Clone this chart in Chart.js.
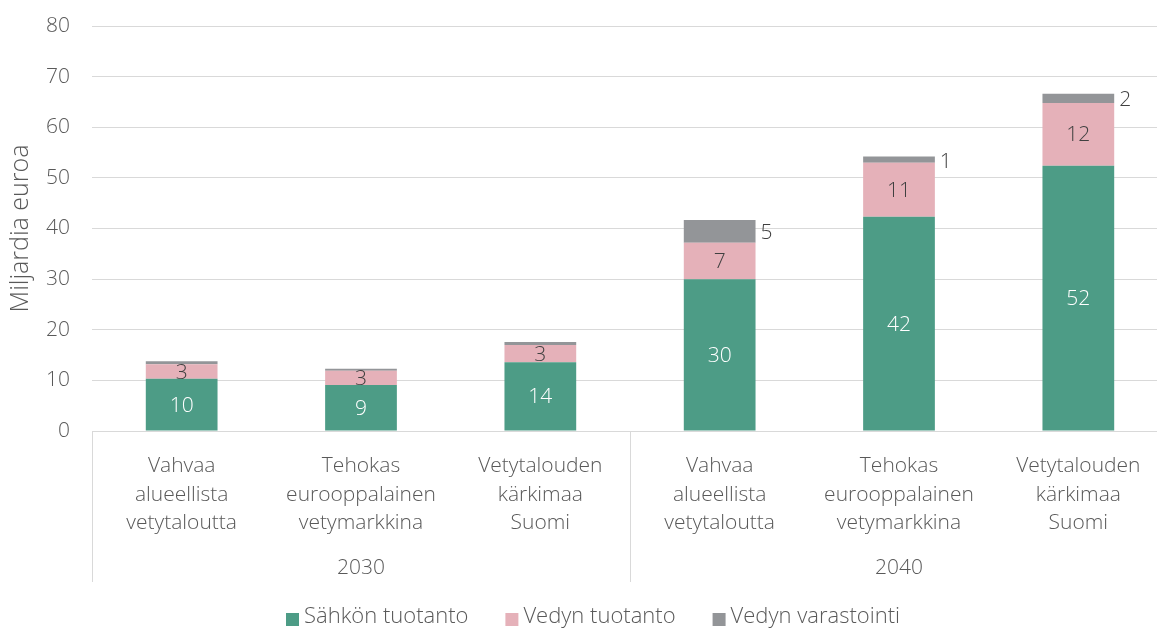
<!DOCTYPE html>
<html>
<head>
<meta charset="utf-8">
<script src="https://cdn.jsdelivr.net/npm/chart.js@4"></script>
<style>
  html, body { margin: 0; padding: 0; background: #fff; overflow: hidden; }
  #wrap { width: 1170px; height: 628px; position: relative; }
</style>
</head>
<body>
<div id="wrap"><canvas id="c"></canvas></div>
<script>
const categories = [
  ['Vahvaa', 'alueellista', 'vetytaloutta'],
  ['Tehokas', 'eurooppalainen', 'vetymarkkina'],
  ['Vetytalouden', 'kärkimaa', 'Suomi'],
  ['Vahvaa', 'alueellista', 'vetytaloutta'],
  ['Tehokas', 'eurooppalainen', 'vetymarkkina'],
  ['Vetytalouden', 'kärkimaa', 'Suomi']
];
const years = ['2030', '2040'];
const yearGroupSize = [3, 3];
const seriesNames = ['Sähkön tuotanto', 'Vedyn tuotanto', 'Vedyn varastointi'];
const sahkonTuotanto = [10.3, 9.1, 13.6, 30.0, 42.3, 52.4];
const vedynTuotanto = [2.9, 2.8, 3.4, 7.2, 10.7, 12.4];
const vedynVarastointi = [0.6, 0.4, 0.6, 4.5, 1.2, 1.8];
const showVarastointiLabel = [false, false, false, true, true, true];
const yMin = 0, yMax = 80, yStep = 10;

const FONT = '"Open Sans"';
const FS = 21;
const TXT = '#595959';
const GRID = '#d9d9d9';
const colors = ['#4d9c86', '#e5b1b9', '#939598'];

const labelPlugin = {
  id: 'labelsAndDecor',
  afterDatasetsDraw(chart) {
    const ctx = chart.ctx;
    ctx.save();
    ctx.font = '300 ' + FS + 'px ' + FONT;
    ctx.textBaseline = 'middle';
    chart.data.datasets.forEach((ds, di) => {
      const meta = chart.getDatasetMeta(di);
      meta.data.forEach((el, i) => {
        const v = ds.data[i];
        const txt = String(Math.round(v));
        const cy = (el.y + el.base) / 2;
        if (di === 0) {
          ctx.fillStyle = '#ffffff';
          ctx.textAlign = 'center';
          ctx.fillText(txt, el.x, cy + 1);
        } else if (di === 1) {
          ctx.fillStyle = '#404040';
          ctx.textAlign = 'center';
          ctx.fillText(txt, el.x, cy + 1);
        } else if (showVarastointiLabel[i]) {
          ctx.fillStyle = '#404040';
          ctx.textAlign = 'left';
          ctx.fillText(txt, el.x + el.width / 2 + 5, cy + 2);
        }
      });
    });
    ctx.restore();
  },
  afterDraw(chart) {
    const ctx = chart.ctx;
    const xs = chart.scales.x;
    const area = chart.chartArea;
    const catW = xs.getPixelForValue(1) - xs.getPixelForValue(0);
    ctx.save();
    ctx.strokeStyle = GRID;
    ctx.lineWidth = 1;
    let start = 0;
    const bottomY = 582;
    ctx.font = '300 ' + FS + 'px ' + FONT;
    ctx.fillStyle = TXT;
    ctx.textAlign = 'center';
    ctx.textBaseline = 'middle';
    years.forEach((yr, g) => {
      const n = yearGroupSize[g];
      const left = xs.getPixelForValue(start) - catW / 2;
      const right = xs.getPixelForValue(start + n - 1) + catW / 2;
      ctx.beginPath();
      ctx.moveTo(Math.round(left) + 0.5, area.bottom);
      ctx.lineTo(Math.round(left) + 0.5, bottomY);
      ctx.moveTo(Math.round(right) + 0.5, area.bottom);
      ctx.lineTo(Math.round(right) + 0.5, bottomY);
      ctx.stroke();
      ctx.fillText(yr, (left + right) / 2, 568);
      start += n;
    });
    // legend
    ctx.font = '300 22px ' + FONT;
    ctx.textAlign = 'left';
    const sq = 13, textOffset = 18, gapItem = 37;
    const widths = seriesNames.map(s => ctx.measureText(s).width);
    let x = 286;
    const ly = 617;
    seriesNames.forEach((s, i) => {
      ctx.fillStyle = colors[i];
      ctx.fillRect(x, 613, sq, sq);
      x += textOffset;
      ctx.fillStyle = TXT;
      ctx.fillText(s, x, ly);
      x += widths[i] + gapItem;
    });
    ctx.restore();
  }
};

new Chart(document.getElementById('c'), {
  type: 'bar',
  data: {
    labels: categories,
    datasets: [
      { label: seriesNames[0], data: sahkonTuotanto, backgroundColor: colors[0] },
      { label: seriesNames[1], data: vedynTuotanto, backgroundColor: colors[1] },
      { label: seriesNames[2], data: vedynVarastointi, backgroundColor: colors[2] }
    ]
  },
  options: {
    responsive: true,
    maintainAspectRatio: false,
    animation: false,
    layout: { padding: { top: 26, left: 0, right: 2, bottom: 0 } },
    datasets: { bar: { categoryPercentage: 1, barPercentage: 0.4, borderWidth: 0 } },
    plugins: { legend: { display: false }, tooltip: { enabled: false } },
    scales: {
      x: {
        stacked: true,
        grid: { display: false, drawTicks: false },
        border: { display: false },
        ticks: { color: TXT, font: { family: FONT, size: FS, weight: 300, lineHeight: 1.357 }, padding: 21, maxRotation: 0, autoSkip: false },
        afterFit(scale) { scale.height = 197; scale.paddingLeft = 0; scale.paddingRight = 0; }
      },
      y: {
        stacked: true,
        min: yMin, max: yMax,
        grid: { color: GRID, lineWidth: 1, drawTicks: false },
        border: { display: false },
        ticks: { stepSize: yStep, color: TXT, font: { family: FONT, size: FS, weight: 300 }, padding: 22 },
        title: { display: true, text: 'Miljardia euroa', color: TXT, font: { family: FONT, size: 25, weight: 300 }, padding: { top: 6, bottom: 0 } },
        afterFit(scale) { scale.width = 92; scale.paddingTop = 0; scale.paddingBottom = 0; }
      }
    }
  },
  plugins: [labelPlugin]
});
</script>
</body>
</html>
